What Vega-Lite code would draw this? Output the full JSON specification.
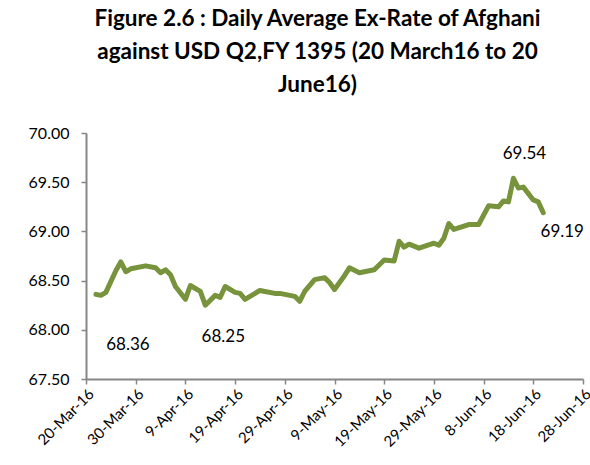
{
  "$schema": "https://vega.github.io/schema/vega-lite/v6.json",
  "width": 497,
  "height": 246,
  "autosize": {"type": "none"},
  "padding": {"left": 86, "top": 133, "right": 7, "bottom": 86},
  "background": "white",
  "config": {"view": {"stroke": null}, "font": "Lato"},
  "title": {
    "text": ["Figure 2.6 : Daily Average Ex-Rate of Afghani", "against USD Q2,FY 1395 (20 March16 to 20", "June16)"],
    "font": "Lato", "fontSize": 22.5, "fontWeight": "bold", "color": "#000000",
    "anchor": "middle", "lineHeight": 33, "offset": 29, "dx": -17
  },
  "datasets": {
    "rate": [
      {"date": "2016-03-22", "rate": 68.36},
      {"date": "2016-03-23", "rate": 68.35},
      {"date": "2016-03-24", "rate": 68.38},
      {"date": "2016-03-26", "rate": 68.60},
      {"date": "2016-03-27", "rate": 68.69},
      {"date": "2016-03-28", "rate": 68.59},
      {"date": "2016-03-29", "rate": 68.62},
      {"date": "2016-04-01", "rate": 68.65},
      {"date": "2016-04-03", "rate": 68.63},
      {"date": "2016-04-04", "rate": 68.58},
      {"date": "2016-04-05", "rate": 68.61},
      {"date": "2016-04-06", "rate": 68.56},
      {"date": "2016-04-07", "rate": 68.44},
      {"date": "2016-04-09", "rate": 68.31},
      {"date": "2016-04-10", "rate": 68.45},
      {"date": "2016-04-12", "rate": 68.39},
      {"date": "2016-04-13", "rate": 68.25},
      {"date": "2016-04-15", "rate": 68.35},
      {"date": "2016-04-16", "rate": 68.33},
      {"date": "2016-04-17", "rate": 68.44},
      {"date": "2016-04-19", "rate": 68.38},
      {"date": "2016-04-20", "rate": 68.37},
      {"date": "2016-04-21", "rate": 68.31},
      {"date": "2016-04-22", "rate": 68.34},
      {"date": "2016-04-24", "rate": 68.40},
      {"date": "2016-04-25", "rate": 68.39},
      {"date": "2016-04-27", "rate": 68.37},
      {"date": "2016-04-28", "rate": 68.37},
      {"date": "2016-04-30", "rate": 68.35},
      {"date": "2016-05-01", "rate": 68.34},
      {"date": "2016-05-02", "rate": 68.29},
      {"date": "2016-05-03", "rate": 68.39},
      {"date": "2016-05-05", "rate": 68.51},
      {"date": "2016-05-07", "rate": 68.53},
      {"date": "2016-05-08", "rate": 68.48},
      {"date": "2016-05-09", "rate": 68.41},
      {"date": "2016-05-11", "rate": 68.55},
      {"date": "2016-05-12", "rate": 68.63},
      {"date": "2016-05-14", "rate": 68.58},
      {"date": "2016-05-17", "rate": 68.61},
      {"date": "2016-05-19", "rate": 68.71},
      {"date": "2016-05-21", "rate": 68.70},
      {"date": "2016-05-22", "rate": 68.90},
      {"date": "2016-05-23", "rate": 68.84},
      {"date": "2016-05-24", "rate": 68.87},
      {"date": "2016-05-26", "rate": 68.83},
      {"date": "2016-05-29", "rate": 68.88},
      {"date": "2016-05-30", "rate": 68.86},
      {"date": "2016-05-31", "rate": 68.93},
      {"date": "2016-06-01", "rate": 69.08},
      {"date": "2016-06-02", "rate": 69.02},
      {"date": "2016-06-05", "rate": 69.07},
      {"date": "2016-06-07", "rate": 69.07},
      {"date": "2016-06-09", "rate": 69.26},
      {"date": "2016-06-11", "rate": 69.25},
      {"date": "2016-06-12", "rate": 69.31},
      {"date": "2016-06-13", "rate": 69.30},
      {"date": "2016-06-14", "rate": 69.54},
      {"date": "2016-06-15", "rate": 69.44},
      {"date": "2016-06-16", "rate": 69.45},
      {"date": "2016-06-18", "rate": 69.32},
      {"date": "2016-06-19", "rate": 69.30},
      {"date": "2016-06-20", "rate": 69.19}
    ]
  },
  "encoding": {
    "x": {
      "field": "date", "type": "temporal",
      "scale": {"type": "utc", "domain": [{"year": 2016, "month": 3, "date": 20, "utc": true}, {"year": 2016, "month": 6, "date": 28, "utc": true}]},
      "axis": {
        "title": null,
        "labelExpr": "utcFormat(datum.value, '%-d-%b-%y')",
        "values": [
          {"year": 2016, "month": 3, "date": 20, "utc": true},
          {"year": 2016, "month": 3, "date": 30, "utc": true},
          {"year": 2016, "month": 4, "date": 9, "utc": true},
          {"year": 2016, "month": 4, "date": 19, "utc": true},
          {"year": 2016, "month": 4, "date": 29, "utc": true},
          {"year": 2016, "month": 5, "date": 9, "utc": true},
          {"year": 2016, "month": 5, "date": 19, "utc": true},
          {"year": 2016, "month": 5, "date": 29, "utc": true},
          {"year": 2016, "month": 6, "date": 8, "utc": true},
          {"year": 2016, "month": 6, "date": 18, "utc": true},
          {"year": 2016, "month": 6, "date": 28, "utc": true}
        ],
        "labelAngle": -45, "labelFontSize": 15, "labelFont": "Lato", "labelColor": "#000000",
        "labelOverlap": false, "labelFlush": false, "labelBound": false, "grid": false,
        "domainColor": "#868686", "domainWidth": 2, "tickColor": "#868686", "tickWidth": 1.5, "tickSize": 5
      }
    },
    "y": {
      "field": "rate", "type": "quantitative",
      "scale": {"domain": [67.5, 70], "zero": false, "nice": false},
      "axis": {
        "title": null, "values": [67.5, 68, 68.5, 69, 69.5, 70], "format": ".2f",
        "labelFontSize": 16, "labelFont": "Lato", "labelColor": "#000000", "labelPadding": 12,
        "grid": false, "domainColor": "#868686", "domainWidth": 2, "tickColor": "#868686", "tickWidth": 1.5, "tickSize": 5
      }
    }
  },
  "layer": [
    {
      "data": {"name": "rate"},
      "mark": {"type": "line", "color": "#77933C", "strokeWidth": 5, "strokeJoin": "round", "strokeCap": "round"}
    },
    {
      "data": {"values": [{"date": "2016-03-22", "rate": 68.36, "label": "68.36"}]},
      "mark": {"type": "text", "fontSize": 17, "font": "Lato", "color": "#000000", "dx": 32, "dy": 51},
      "encoding": {"text": {"field": "label"}}
    },
    {
      "data": {"values": [{"date": "2016-04-13", "rate": 68.25, "label": "68.25"}]},
      "mark": {"type": "text", "fontSize": 17, "font": "Lato", "color": "#000000", "dx": 18, "dy": 32},
      "encoding": {"text": {"field": "label"}}
    },
    {
      "data": {"values": [{"date": "2016-06-14", "rate": 69.54, "label": "69.54"}]},
      "mark": {"type": "text", "fontSize": 17, "font": "Lato", "color": "#000000", "dx": 11, "dy": -24},
      "encoding": {"text": {"field": "label"}}
    },
    {
      "data": {"values": [{"date": "2016-06-20", "rate": 69.19, "label": "69.19"}]},
      "mark": {"type": "text", "fontSize": 17, "font": "Lato", "color": "#000000", "dx": 19, "dy": 19},
      "encoding": {"text": {"field": "label"}}
    }
  ]
}
